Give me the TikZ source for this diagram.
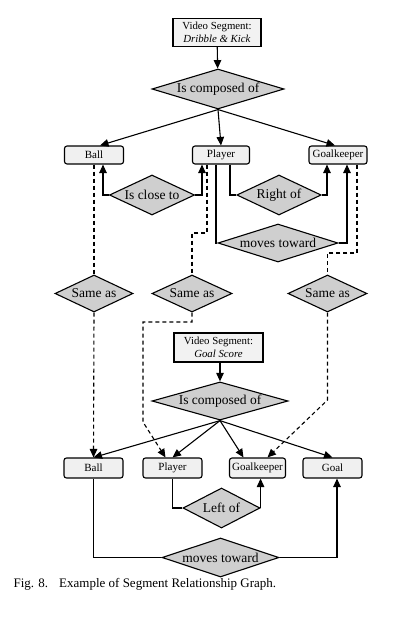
\documentclass[tikz,border=0pt]{standalone}
\usepackage{fontspec}
\setmainfont{Liberation Serif}
\usetikzlibrary{shapes.geometric,arrows.meta}
\begin{document}
\begin{tikzpicture}[x=1pt,y=-1pt,
 line width=1.1pt,
 ent/.style={draw, rounded corners=2.5pt, fill=gray!12, minimum width=59pt, minimum height=18pt, inner sep=0pt, font=\fontsize{11}{12}\selectfont},
 seg/.style={draw, fill=gray!10, minimum width=88pt, minimum height=28pt, inner sep=0pt, align=center, font=\fontsize{10.8}{12.5}\selectfont},
 rel/.style={draw, diamond, fill=gray!38, inner sep=0pt, aspect=3.2, font=\fontsize{13.5}{15}\selectfont},
 arr/.style={-{Triangle[length=8.5pt,width=7.5pt]}},
 dsh/.style={dash pattern=on 4pt off 3pt},
 dsharr/.style={arr, dash pattern=on 4pt off 3pt}
]
\useasboundingbox (0,0) rectangle (400,621);
% top segment
\node[seg] (vs1) at (217,32.5) {Video Segment:\\\textit{Dribble \& Kick}};
\node[rel, minimum width=132pt, minimum height=40pt] (c1) at (218,89) {Is composed of};
\node[ent] (ball1) at (94,155) {Ball};
\node[ent, minimum width=57pt] (pl1) at (221,155) {Player};
\node[ent, minimum width=58pt] (gk1) at (338,155) {Goalkeeper};
\node[rel, minimum width=80pt, minimum height=40pt] (close) at (152,195) {Is close to};
\node[rel, minimum width=78pt, minimum height=40pt] (right) at (279,195) {Right of};
\node[rel, minimum width=120pt, minimum height=38pt] (mt1) at (278,243) {moves toward};
% same as
\node[rel, minimum width=78pt, minimum height=37pt] (s1) at (94,293.5) {Same as};
\node[rel, minimum width=80pt, minimum height=37pt] (s2) at (192,293.5) {Same as};
\node[rel, minimum width=79pt, minimum height=37pt] (s3) at (327.5,293.5) {Same as};
% bottom segment
\node[seg, minimum width=89pt, minimum height=29pt] (vs2) at (218.5,347.5) {Video Segment:\\\textit{Goal Score}};
\node[rel, minimum width=136pt, minimum height=38pt] (c2) at (220,401) {Is composed of};
\node[ent, minimum height=20pt] (ball2) at (93.5,468) {Ball};
\node[ent, minimum height=20pt] (pl2) at (172.5,468) {Player};
\node[ent, minimum height=20pt, minimum width=56pt] (gk2) at (257.5,468) {Goalkeeper};
\node[ent, minimum height=20pt] (goal) at (332.5,468) {Goal};
\node[rel, minimum width=77pt, minimum height=40pt] (left) at (221.5,508) {Left of};
\node[rel, minimum width=117pt, minimum height=39pt] (mt2) at (220.5,557.5) {moves toward};
\node[anchor=west, inner sep=0pt, font=\fontsize{13}{15}\selectfont] (cap) at (13,584) {Fig. 8.\hspace{11pt}Example of Segment Relationship Graph.};

% connectors, top
\draw[arr] (vs1) -- (c1);
\draw[arr] (c1.south) -- ([xshift=6]ball1.north);
\draw[arr] (c1.south) -- (pl1.north);
\draw[arr] (c1.south) -- ([xshift=-3]gk1.north);
\draw[arr] (close.west) -| ([xshift=9]ball1.south);
\draw[arr] (close.east) -| ([xshift=-19]pl1.south);
\draw ([xshift=9]pl1.south) |- (right.west);
\draw[arr] (right.east) -| ([xshift=-11]gk1.south);
\draw ([xshift=-5]pl1.south) |- (mt1.west);
\draw[arr] (mt1.east) -| ([xshift=9]gk1.south);

% dashed same-as links
\draw[dsh] (ball1.south) -- (s1.north);
\draw[dsharr] (s1.south) -- (ball2.north);
\draw[dsh] ([xshift=-14]pl1.south) -- (207,233) -| (s2.north);
\draw[dsharr] (s2.south) -- (s2.south |- 0,322) -- (143,322) -- (143,422) -- ([xshift=-7]pl2.north);
\draw[dsh] ([xshift=19]gk1.south) -- (357,253) -| (s3.north);
\draw[dsharr] (s3.south) -- (s3.south |- 0,400) -- ([xshift=10]gk2.north);

% connectors, bottom
\draw[arr] (c2.north |- vs2.south) -- (c2.north);
\draw[arr] (c2.south) -- (ball2.north);
\draw[arr] (c2.south) -- (pl2.north);
\draw[arr] (c2.south) -- ([xshift=-14]gk2.north);
\draw[arr] (c2.south) -- (goal.north);
\draw (pl2.south) |- (left.west);
\draw[arr] (left.east) -- (left.east |- gk2.south);
\draw (ball2.south) |- (mt2.west);
\draw[arr] (mt2.east) -| ([xshift=4.5]goal.south);
\end{tikzpicture}
\end{document}
